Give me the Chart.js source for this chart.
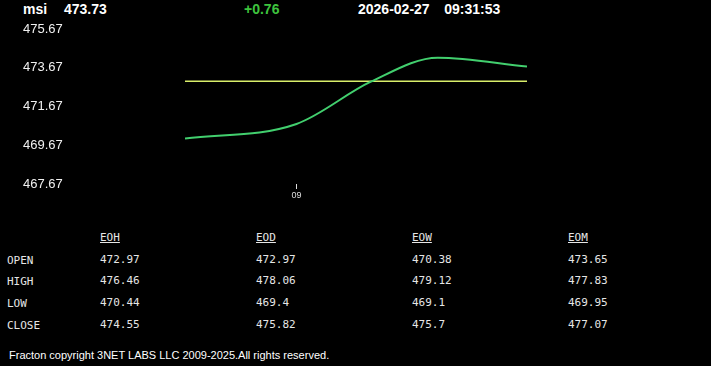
<!DOCTYPE html>
<html>
<head>
<meta charset="utf-8">
<script src="https://cdn.jsdelivr.net/npm/chart.js@4"></script>
<style>
  html, body { margin: 0; padding: 0; background: #000; }
  body { width: 711px; height: 366px; position: relative; overflow: hidden; font-family: Arial, "Liberation Sans", sans-serif; color: #fff; }
  #head { position: absolute; top: 0; left: 0; width: 711px; height: 20px; font-weight: bold; font-size: 14px; }
  #head span { position: absolute; top: 1px; }
  #wrap { position: absolute; top: 0; left: 0; width: 711px; height: 210px; }
  #stats { position: absolute; top: 231px; left: 0; font-family: "DejaVu Sans Mono", monospace; font-size: 11px; color: #e6e6e6; }
  #stats div { position: absolute; white-space: nowrap; }
  #stats .h { text-decoration: underline; }
  #foot { position: absolute; left: 9px; top: 349px; font-size: 11px; color: #fff; }
</style>
</head>
<body>
<div id="head">
  <span style="left:23px">msi</span>
  <span id="last" style="left:64px"></span>
  <span id="chg" style="left:244px;color:#3ec43e"></span>
  <span id="stamp" style="left:358px;word-spacing:1px"></span>
</div>
<div id="wrap"><canvas id="priceChart"></canvas></div>
<div id="stats"></div>
<div id="foot">Fracton copyright 3NET LABS LLC 2009-2025.All rights reserved.</div>
<script>
// minutes after 08:00
const times = [45, 60, 70, 79, 91];
const prices = [470.02, 470.77, 472.95, 474.19, 473.73];
const openLine = [472.97, 472.97];
const openTimes = [45, 91];
const yTicks = [467.67, 469.67, 471.67, 473.67, 475.67];
const xTicks = [60];
const xTickLabels = ['09'];

const symbol = 'msi';
const lastPrice = '473.73';
const change = '+0.76';
const stamp = '2026-02-27\u00a0\u00a0\u00a009:31:53';

const colLabels = ['EOH', 'EOD', 'EOW', 'EOM'];
const rowLabels = ['OPEN', 'HIGH', 'LOW', 'CLOSE'];
const eohVals = ['472.97', '476.46', '470.44', '474.55'];
const eodVals = ['472.97', '478.06', '469.4', '475.82'];
const eowVals = ['470.38', '479.12', '469.1', '475.7'];
const eomVals = ['473.65', '477.83', '469.95', '477.07'];

document.getElementById('last').textContent = lastPrice;
document.getElementById('chg').textContent = change;
document.getElementById('stamp').textContent = stamp;

function buildStats() {
    const box = document.getElementById('stats');
    const cols = [eohVals, eodVals, eowVals, eomVals];
    const colX = [100, 256, 412, 568];
    const rowY = [0, 22, 43, 65, 87];
    colLabels.forEach((c, i) => {
        const d = document.createElement('div');
        d.className = 'h';
        d.textContent = c;
        d.style.left = colX[i] + 'px';
        d.style.top = rowY[0] + 'px';
        box.appendChild(d);
    });
    rowLabels.forEach((r, j) => {
        const d = document.createElement('div');
        d.textContent = r;
        d.style.left = '7px';
        d.style.top = (rowY[j + 1] + 1) + 'px';
        box.appendChild(d);
        cols.forEach((vals, i) => {
            const v = document.createElement('div');
            v.textContent = vals[j];
            v.style.left = colX[i] + 'px';
            v.style.top = rowY[j + 1] + 'px';
            box.appendChild(v);
        });
    });
}

function initChart() {
    const ctx = document.getElementById('priceChart').getContext('2d');
    new Chart(ctx, {
        type: 'line',
        data: {
            datasets: [{
                data: times.map((t, i) => ({ x: t, y: prices[i] })),
                borderColor: '#42cf6e',
                borderWidth: 2,
                pointRadius: 0,
                cubicInterpolationMode: 'monotone'
            },
            {
                data: openTimes.map((t, i) => ({ x: t, y: openLine[i] })),
                borderColor: '#d9ee6a',
                borderWidth: 1.5,
                pointRadius: 0
            }]
        },
        options: {
            responsive: true,
            maintainAspectRatio: false,
            animation: false,
            layout: { padding: { left: 23, right: 184, top: 29, bottom: 6 } },
            plugins: {
                legend: { display: false },
                tooltip: { enabled: false }
            },
            scales: {
                x: {
                    type: 'linear',
                    min: 45,
                    max: 91,
                    border: { display: false },
                    grid: { drawOnChartArea: false, color: '#ddd', tickLength: 5 },
                    afterBuildTicks: s => { s.ticks = xTicks.map(v => ({ value: v })); },
                    afterFit: s => { s.height = 20; },
                    ticks: {
                        color: '#ddd',
                        padding: 1,
                        font: { family: 'Arial', size: 9 },
                        callback: v => xTickLabels[xTicks.indexOf(v)]
                    }
                },
                y: {
                    min: 467.67,
                    max: 475.67,
                    border: { display: false },
                    grid: { display: false },
                    afterBuildTicks: s => { s.ticks = yTicks.map(v => ({ value: v })); },
                    afterFit: s => { s.width = 162; },
                    ticks: {
                        color: '#f0f0f0',
                        crossAlign: 'far',
                        font: { family: 'Arial', size: 13 },
                        callback: v => v.toFixed(2)
                    }
                }
            }
        }
    });
}

buildStats();
window.addEventListener('DOMContentLoaded', initChart);
</script>
</body>
</html>
